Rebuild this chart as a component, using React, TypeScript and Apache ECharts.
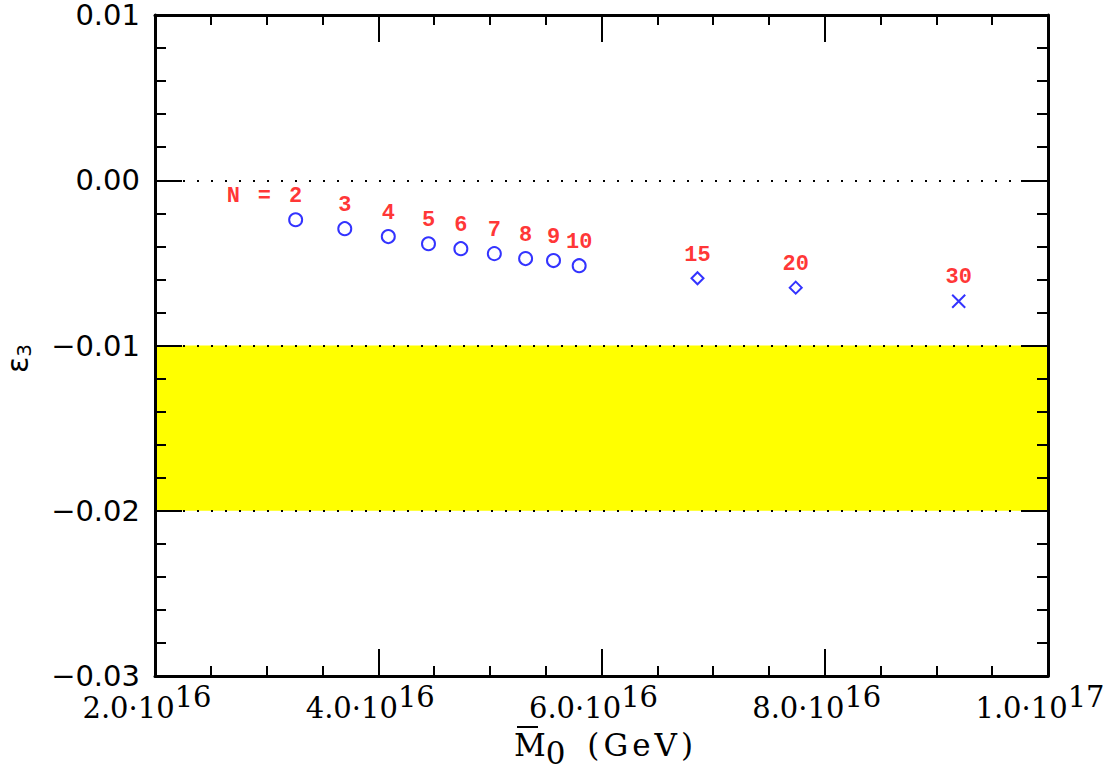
import React, { useEffect, useRef } from "react";
import * as echarts from "echarts";

// ---- data ----
const nValues = [2, 3, 4, 5, 6, 7, 8, 9, 10, 15, 20, 30];
const massM0 = [3.26e16, 3.70e16, 4.09e16, 4.45e16, 4.74e16, 5.04e16, 5.32e16, 5.57e16, 5.80e16, 6.86e16, 7.74e16, 9.20e16];
const eps3 = [-0.00239, -0.00293, -0.00341, -0.00384, -0.00414, -0.00444, -0.00474, -0.00486, -0.00517, -0.00593, -0.0065, -0.00732];
const markerKind = ["o", "o", "o", "o", "o", "o", "o", "o", "o", "d", "d", "x"];

const xMin = 2.0e16;
const xMax = 1.0e17;
const xStep = 2.0e16;
const yMin = -0.03;
const yMax = 0.01;
const yStep = 0.01;
const dottedLevels = [0, -0.01, -0.02];
const bandRange = [-0.02, -0.01];
const xTitleChars = ["(", "G", "e", "V", ")"];

const BLUE = "#0000ff";
const RED = "#ff0000";
const CROSS = "path://M0,0L10,10M10,0L0,10";

function xLabel(v: number): string {
  const exp = Math.floor(Math.log10(v) + 1e-9);
  const mant = v / Math.pow(10, exp);
  return `{b|${mant.toFixed(1)}·10}{s|${exp}}`;
}

function yLabel(v: number): string {
  const r = Math.round(v * 100) / 100;
  if (Math.abs(r) < 1e-12) return "0.00";
  return (r < 0 ? "\u2212" : "") + Math.abs(r).toFixed(2);
}

const axisCommon = {
  axisLine: { show: true, onZero: false, lineStyle: { color: "#000", width: 3 } },
  axisTick: { show: true, inside: true, length: 27, lineStyle: { color: "#000", width: 2 } },
  splitLine: { show: false },
  z: 10,
};

export default function App() {
  const ref = useRef<HTMLDivElement>(null);

  useEffect(() => {
    if (!ref.current) return;
    const chart = echarts.init(ref.current, undefined, { renderer: "svg" });

    const redFont = { color: RED, fontFamily: "Liberation Mono", fontWeight: "bold", fontSize: 22 };
    const labelBase = { show: true, position: "top", distance: 5, ...redFont };

    const points = nValues.map((n, i) => {
      const kind = markerKind[i];
      const item: any = {
        value: [massM0[i], eps3[i]],
        symbol: kind === "o" ? "circle" : kind === "d" ? "diamond" : CROSS,
        symbolSize: kind === "o" ? 13 : kind === "d" ? 12 : 13,
        label: { ...labelBase, formatter: String(n) },
      };
      if (i === 0) {
        item.label = {
          ...labelBase,
          formatter: `{n|N}{e|=}{v|${n}}`,
          align: "right",
          offset: [6.6, 0],
          rich: {
            n: { ...redFont, padding: [0, 18, 0, 0] },
            e: { ...redFont, padding: [0, 18, 0, 0] },
            v: { ...redFont },
          },
        };
      }
      return item;
    });

    const serif = { fontFamily: "DejaVu Serif", fontSize: 31, color: "#000" };

    chart.setOption({
      animation: false,
      backgroundColor: "#fff",
      grid: { left: 155, right: 65, top: 15, bottom: 96, containLabel: false, outerBoundsMode: "none" },
      graphic: [
        {
          type: "rect",
          silent: true,
          z: 20,
          shape: { x: 517, y: 726, width: 21, height: 2 },
          style: { fill: "#000" },
        },
      ],
      xAxis: [
        {
          type: "value",
          min: xMin,
          max: xMax,
          interval: xStep,
          position: "bottom",
          ...axisCommon,
          minorTick: { show: true, splitNumber: 4, length: 10, lineStyle: { color: "#000", width: 2 } },
          axisLabel: {
            show: true,
            margin: 6,
            padding: [0, 16, 0, 0],
            formatter: (v: number) => xLabel(v),
            rich: {
              b: { fontFamily: "DejaVu Serif", fontSize: 29, color: "#000" },
              s: { fontFamily: "DejaVu Serif", fontSize: 29, color: "#000", padding: [0, 0, 22, 0] },
            },
          },
          name: "{m|M}{s|0}{sp| }" + xTitleChars.map((c) => `{g|${c}}`).join(""),
          nameLocation: "middle",
          nameGap: 45,
          nameTextStyle: {
            padding: [0, 0, 0, 6],
            rich: {
              m: { ...serif },
              s: { ...serif, padding: [16, 0, 0, 0] },
              sp: { ...serif, padding: [0, 10, 0, 0] },
              g: { ...serif, padding: [0, 2, 0, 2] },
            },
          },
        },
        {
          type: "value",
          min: xMin,
          max: xMax,
          interval: xStep,
          position: "top",
          ...axisCommon,
          minorTick: { show: true, splitNumber: 4, length: 10, lineStyle: { color: "#000", width: 2 } },
          axisLabel: { show: false },
        },
      ],
      yAxis: [
        {
          type: "value",
          min: yMin,
          max: yMax,
          interval: yStep,
          position: "left",
          ...axisCommon,
          minorTick: { show: true, splitNumber: 5, length: 11, lineStyle: { color: "#000", width: 2 } },
          axisLabel: {
            show: true,
            margin: 15,
            fontFamily: "DejaVu Sans",
            fontSize: 29,
            lineHeight: 26,
            padding: [4, 0, 0, 0],
            color: "#000",
            formatter: (v: number) => yLabel(v),
          },
          name: "{e|\u03b5}{s|3}",
          nameLocation: "middle",
          nameRotate: 90,
          nameGap: 121,
          nameTextStyle: {
            padding: [0, 26, 0, 0],
            rich: {
              e: { fontFamily: "DejaVu Sans", fontSize: 30, color: "#000" },
              s: { fontFamily: "DejaVu Sans", fontSize: 20, color: "#000", padding: [14, 0, 0, 0] },
            },
          },
        },
        {
          type: "value",
          min: yMin,
          max: yMax,
          interval: yStep,
          position: "right",
          ...axisCommon,
          minorTick: { show: true, splitNumber: 5, length: 11, lineStyle: { color: "#000", width: 2 } },
          axisLabel: { show: false },
        },
      ],
      series: [
        {
          name: "band",
          type: "line",
          data: [],
          z: 1,
          silent: true,
          markArea: {
            silent: true,
            itemStyle: { color: "#ffff00", opacity: 1 },
            data: [[{ xAxis: xMin, yAxis: bandRange[1] }, { xAxis: xMax, yAxis: bandRange[0] }]],
          },
        },
        {
          name: "levels",
          type: "line",
          data: [],
          z: 3,
          silent: true,
          markLine: {
            silent: true,
            symbol: ["none", "none"],
            label: { show: false },
            lineStyle: { color: "#000", width: 2, type: [2, 12] },
            data: dottedLevels.map((y) => ({ yAxis: y })),
          },
        },
        {
          name: "eps3",
          type: "scatter",
          z: 5,
          itemStyle: { color: "rgba(0,0,0,0)", borderColor: BLUE, borderWidth: 2 },
          data: points,
        },
      ],
    });

    return () => chart.dispose();
  }, []);

  return (
    <div
      ref={ref}
      style={{ position: "fixed", left: 0, top: 0, width: 1113, height: 772, background: "#fff" }}
    />
  );
}
